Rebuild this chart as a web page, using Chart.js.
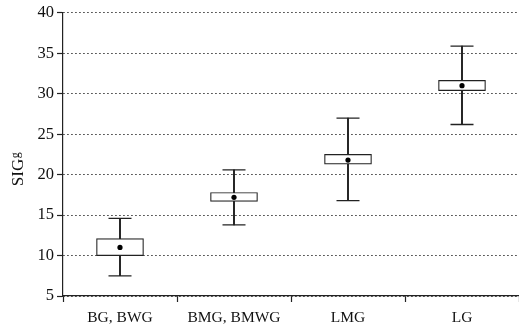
<!DOCTYPE html>
<html>
<head>
<meta charset="utf-8">
<script src="https://cdn.jsdelivr.net/npm/chart.js@4.4.1/dist/chart.umd.min.js"></script>
<style>
  html, body { margin: 0; padding: 0; background: #fff; }
  #wrap { width: 519px; height: 330px; }
</style>
</head>
<body>
<div id="wrap"><canvas id="chart" width="519" height="330"></canvas></div>
<script>
// categories and box statistics
const categories = ["BG, BWG", "BMG, BMWG", "LMG", "LG"];
const minVals  = [7.5, 13.8, 16.8, 26.2];
const q1Vals   = [10.0, 16.7, 21.3, 30.4];
const meanVals = [11.0, 17.2, 21.8, 31.0];
const q3Vals   = [12.1, 17.8, 22.5, 31.65];
const maxVals  = [14.6, 20.6, 27.0, 35.9];
const yTicks   = [5, 10, 15, 20, 25, 30, 35, 40];

const serif = "'Liberation Serif', 'DejaVu Serif', serif";

// y axis title "SIG" with small g, drawn rotated
const axisTitle = {
    id: 'axisTitle',
    afterDraw(chart) {
        const ctx = chart.ctx;
        const area = chart.chartArea;
        ctx.save();
        ctx.translate(23, (area.top + area.bottom) / 2 + 14);
        ctx.rotate(-Math.PI / 2);
        ctx.fillStyle = '#111';
        ctx.textBaseline = 'alphabetic';
        ctx.font = '17px ' + serif;
        ctx.textAlign = 'left';
        const main = 'SIG';
        const w = ctx.measureText(main).width;
        const full = w + 8;
        ctx.fillText(main, -full / 2, 0);
        ctx.font = '12px ' + serif;
        ctx.fillText('g', -full / 2 + w + 0.5, -4);
        ctx.restore();
    }
};

new Chart(document.getElementById("chart"), {
    type: "bar",
    data: {
        labels: categories,
        datasets: [
            {
                // whisker stem
                type: "bar",
                data: categories.map((c, i) => [minVals[i], maxVals[i]]),
                backgroundColor: "#222",
                borderWidth: 0,
                barThickness: 1.3,
                grouped: false,
                order: 3
            },
            {
                // box q1..q3
                type: "bar",
                data: categories.map((c, i) => [q1Vals[i], q3Vals[i]]),
                backgroundColor: "#fff",
                borderColor: "#222",
                borderWidth: 1.2,
                borderSkipped: false,
                barThickness: 47,
                grouped: false,
                order: 2
            },
            {
                // upper caps
                type: "line",
                data: maxVals,
                showLine: false,
                pointStyle: "line",
                pointRadius: 11.5,
                pointHoverRadius: 11.5,
                borderColor: "#222",
                borderWidth: 1.3,
                order: 1
            },
            {
                // lower caps
                type: "line",
                data: minVals,
                showLine: false,
                pointStyle: "line",
                pointRadius: 11.5,
                pointHoverRadius: 11.5,
                borderColor: "#222",
                borderWidth: 1.3,
                order: 1
            },
            {
                // mean dot
                type: "line",
                data: meanVals,
                showLine: false,
                pointStyle: "circle",
                pointRadius: 2.6,
                backgroundColor: "#000",
                borderColor: "#000",
                borderWidth: 0,
                order: 0
            }
        ]
    },
    options: {
        responsive: false,
        animation: false,
        layout: { autoPadding: false, padding: { top: 11, right: 0, bottom: 0, left: 0 } },
        plugins: {
            legend: { display: false },
            tooltip: { enabled: false }
        },
        scales: {
            x: {
                offset: true,
                grid: {
                    offset: true,
                    drawOnChartArea: false,
                    tickLength: 6,
                    tickColor: "#222",
                    tickWidth: 1.2
                },
                border: { color: "#222", width: 1.2 },
                ticks: {
                    color: "#111",
                    padding: 7,
                    font: { family: serif, size: 15.5 }
                },
                afterFit: s => { s.height = 34; s.paddingLeft = 0; s.paddingRight = 0; }
            },
            y: {
                min: 5,
                max: 40,
                afterBuildTicks: s => { s.ticks = yTicks.map(v => ({ value: v })); },
                grid: {
                    color: "#333",
                    lineWidth: 1,
                    tickLength: 6,
                    tickColor: "#222",
                    tickWidth: 1.2,
                    tickBorderDash: []
                },
                border: { color: "#222", width: 1.2, dash: [1.5, 2.5] },
                ticks: {
                    color: "#111",
                    padding: 3,
                    font: { family: serif, size: 16.5 }
                },
                afterFit: s => { s.width = 63; }
            }
        }
    },
    plugins: [axisTitle]
});
</script>
</body>
</html>
